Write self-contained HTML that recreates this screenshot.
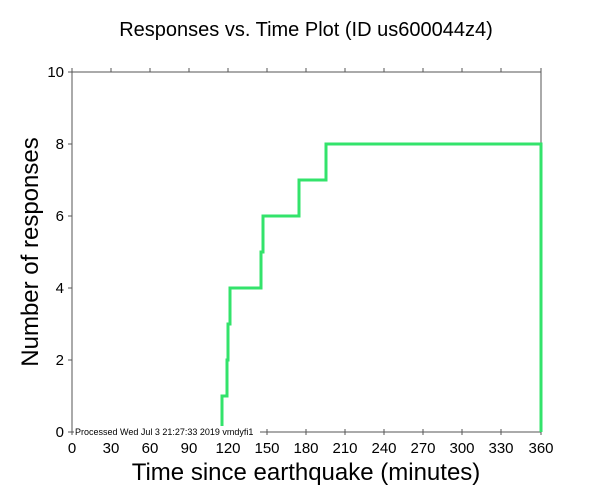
<!DOCTYPE html>
<html><head><style>body{margin:0;background:#fff}svg{display:block}text{font-family:"Liberation Sans",sans-serif;fill:#000}</style></head>
<body>
<svg width="612" height="504" viewBox="0 0 612 504">
<rect width="612" height="504" fill="#fff"/>
<text x="306" y="36" font-size="20" text-anchor="middle">Responses vs. Time Plot (ID us600044z4)</text>
<g stroke="#555" stroke-width="1" fill="none">
<rect x="72" y="72" width="469" height="360"/>
<path d="M72,72v-4 M111,72v-4 M150,72v-4 M189,72v-4 M228,72v-4 M267,72v-4 M306,72v-4 M345,72v-4 M384,72v-4 M423,72v-4 M462,72v-4 M501,72v-4 M541,72v-4
M72,429v6 M111,429v6 M150,429v6 M189,429v6 M228,429v6 M267,429v6 M306,429v6 M345,429v6 M384,429v6 M423,429v6 M462,429v6 M501,429v6 M541,429v6
M68,72h4 M68,144h4 M68,216h4 M68,288h4 M68,360h4 M68,432h4"/>
</g>
<polyline fill="none" stroke="#33e36b" stroke-width="3" points="222,432 222,396 227,396 227,360 228,360 228,324 230,324 230,288 261,288 261,252 263,252 263,216 299,216 299,180 326,180 326,144 541,144 541,432"/>
<rect x="74" y="426" width="186" height="11" fill="#fff"/>
<text x="75" y="435" font-size="9">Processed Wed Jul  3 21:27:33 2019 vmdyfi1</text>
<g font-size="15" text-anchor="end">
<text x="64" y="77">10</text><text x="64" y="149">8</text><text x="64" y="221">6</text><text x="64" y="293">4</text><text x="64" y="365">2</text><text x="64" y="437">0</text>
</g>
<g font-size="15" text-anchor="middle">
<text x="72" y="453">0</text><text x="111" y="453">30</text><text x="150" y="453">60</text><text x="189" y="453">90</text><text x="228" y="453">120</text><text x="267" y="453">150</text><text x="306" y="453">180</text><text x="345" y="453">210</text><text x="384" y="453">240</text><text x="423" y="453">270</text><text x="462" y="453">300</text><text x="501" y="453">330</text><text x="541" y="453">360</text>
</g>
<text x="306" y="480" font-size="24" text-anchor="middle">Time since earthquake (minutes)</text>
<text transform="translate(38,252) rotate(-90)" font-size="24" text-anchor="middle">Number of responses</text>
</svg>
</body></html>
